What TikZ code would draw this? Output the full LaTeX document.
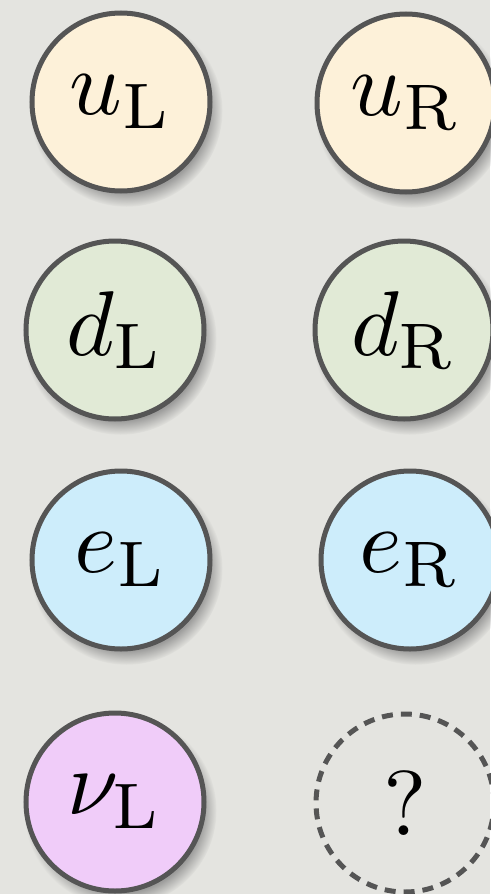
\documentclass[tikz,border=0pt]{standalone}
\usepackage{graphicx}
\usetikzlibrary{shadows}
\definecolor{bgcol}{HTML}{E4E4E0}
\definecolor{rimcol}{HTML}{555555}
\definecolor{ucol}{HTML}{FDF1D9}
\definecolor{dcol}{HTML}{E1EAD6}
\definecolor{ecol}{HTML}{CDEDFB}
\definecolor{nucol}{HTML}{F0CCF9}
% large label: normal-size math scaled up uniformly
\newcommand{\biglabel}[1]{\scalebox{9.2}{#1}}
\tikzset{
  particle/.style={circle, draw=rimcol, line width=5pt, minimum size=178pt,
    inner sep=0pt, fill=#1,
    circular drop shadow={shadow xshift=5pt, shadow yshift=-8pt, shadow scale=1.08, opacity=0.7}},
  missing/.style={circle, draw=rimcol, line width=5pt, minimum size=178pt,
    inner sep=0pt, dash pattern=on 11pt off 8pt}
}
\begin{document}
\begin{tikzpicture}[x=1pt, y=-1pt]
  \fill[bgcol] (0,0) rectangle (490,894);
  \useasboundingbox (0,0) rectangle (490,894);
  % left-handed states
  \node[particle=ucol]  (uL)  at (121,102) {\biglabel{$u_{\mathrm{L}}$}};
  \node[particle=dcol]  (dL)  at (115,330) {\biglabel{$d_{\mathrm{L}}$}};
  \node[particle=ecol]  (eL)  at (121,560) {\biglabel{$e_{\mathrm{L}}$}};
  \node[particle=nucol] (nuL) at (115,802) {\biglabel{$\nu_{\mathrm{L}}$}};
  % right-handed states
  \node[particle=ucol]  (uR)  at (406,103) {\biglabel{$u_{\mathrm{R}}$}};
  \node[particle=dcol]  (dR)  at (404,330) {\biglabel{$d_{\mathrm{R}}$}};
  \node[particle=ecol]  (eR)  at (410,560) {\biglabel{$e_{\mathrm{R}}$}};
  \node[missing]        (nuR) at (405,803) {\biglabel{?}};
\end{tikzpicture}
\end{document}
